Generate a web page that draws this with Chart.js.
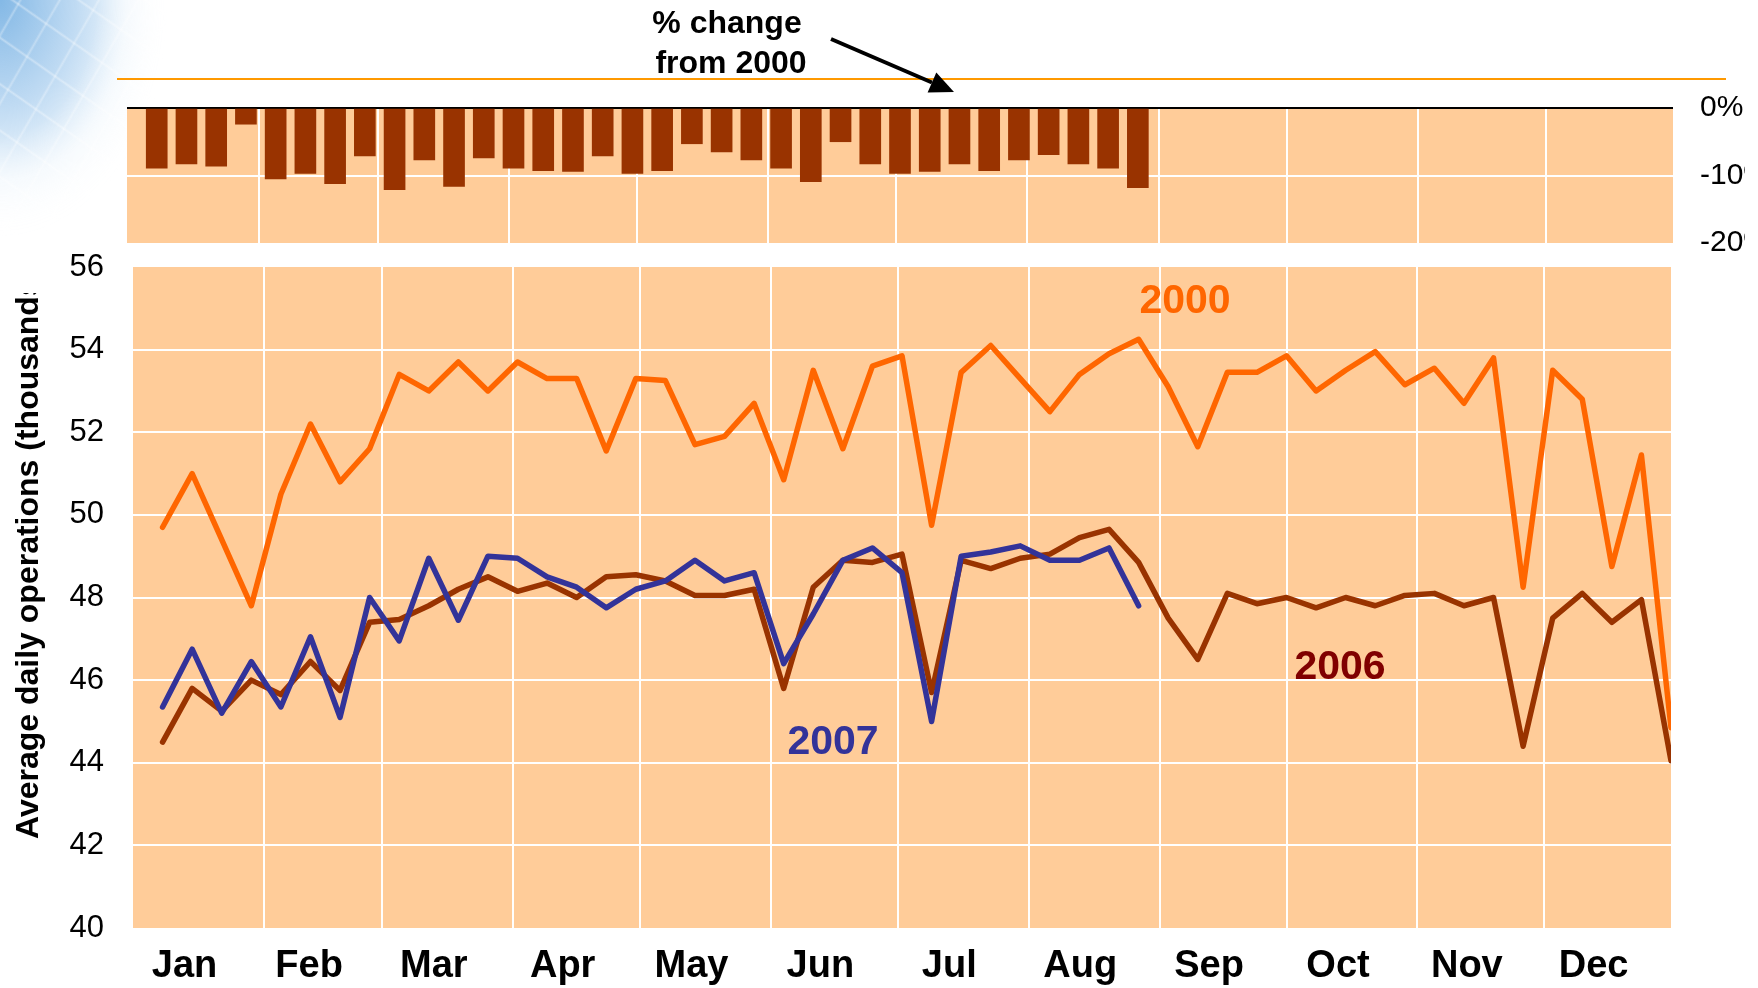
<!DOCTYPE html>
<html>
<head>
<meta charset="utf-8">
<script src="https://cdn.jsdelivr.net/npm/chart.js@4.4.1/dist/chart.umd.min.js"></script>
<style>
html, body { margin:0; padding:0; width:1758px; height:988px; overflow:hidden; background:#fff; }
#deco { position:absolute; left:0; top:0; width:360px; height:360px;
  background:
    repeating-linear-gradient(35deg, rgba(255,255,255,0) 0px, rgba(255,255,255,0) 34px, rgba(255,255,255,0.35) 36px, rgba(255,255,255,0) 38px),
    repeating-linear-gradient(-60deg, rgba(255,255,255,0) 0px, rgba(255,255,255,0) 30px, rgba(255,255,255,0.3) 32px, rgba(255,255,255,0) 34px),
    radial-gradient(ellipse 170px 240px at 0 0, rgba(110,172,225,0.85) 0%, rgba(150,195,235,0.6) 45%, rgba(205,228,246,0.3) 75%, rgba(255,255,255,0) 100%);
  -webkit-mask-image: radial-gradient(ellipse 175px 245px at 0 0, #000 0%, #000 55%, rgba(0,0,0,0) 100%);
  mask-image: radial-gradient(ellipse 175px 245px at 0 0, #000 0%, #000 55%, rgba(0,0,0,0) 100%); }
canvas { position:absolute; left:0; top:0; }
</style>
</head>
<body>
<div id="deco"></div>
<canvas id="top" width="1745" height="300"></canvas>
<canvas id="main" width="1758" height="988"></canvas>
<script>
// ---- data ----
const monthNames = ["Jan","Feb","Mar","Apr","May","Jun","Jul","Aug","Sep","Oct","Nov","Dec"];
const monthStarts = [0,31,59,90,120,151,181,212,243,273,304,334,364];
const weekDays = [7,14,21,28,35,42,49,56,63,70,77,84,91,98,105,112,119,126,133,140,147,154,161,168,175,182,189,196,203,210,217,224,231,238,245,252,259,266,273,280,287,294,301,308,315,322,329,336,343,350,357,364];
const ops2000 = [49.7,51.0,49.4,47.8,50.5,52.2,50.8,51.6,53.4,53.0,53.7,53.0,53.7,53.3,53.3,51.55,53.3,53.25,51.7,51.9,52.7,50.85,53.5,51.6,53.6,53.85,49.75,53.45,54.1,53.3,52.5,53.4,53.9,54.25,53.1,51.65,53.45,53.45,53.85,53.0,53.5,53.95,53.15,53.55,52.7,53.8,48.25,53.5,52.8,48.75,51.45,44.85];
const ops2006 = [44.5,45.8,45.25,46.0,45.65,46.45,45.75,47.4,47.47,47.8,48.2,48.5,48.15,48.35,48.0,48.5,48.55,48.4,48.05,48.05,48.2,45.8,48.25,48.9,48.85,49.05,45.7,48.9,48.7,48.95,49.05,49.45,49.65,48.85,47.5,46.5,48.1,47.85,48.0,47.75,48.0,47.8,48.05,48.1,47.8,48.0,44.4,47.5,48.1,47.4,47.95,44.05];
const ops2007 = [45.35,46.75,45.2,46.45,45.35,47.05,45.1,48.0,46.95,48.95,47.45,49.0,48.95,48.5,48.25,47.75,48.2,48.4,48.9,48.4,48.6,46.4,47.6,48.9,49.2,48.6,45.0,49.0,49.1,49.25,48.9,48.9,49.2,47.8];
const pctChange = [-8.9,-8.3,-8.6,-2.4,-10.5,-9.7,-11.2,-7.1,-12.1,-7.7,-11.6,-7.4,-8.9,-9.3,-9.4,-7.1,-9.7,-9.3,-5.3,-6.5,-7.7,-8.9,-10.9,-5.0,-8.3,-9.7,-9.4,-8.3,-9.3,-7.7,-6.9,-8.3,-8.9,-11.8];
const opsTicks = [40,42,44,46,48,50,52,54,56];
const pctTicks = [0,-10,-20];

// ---- helpers ----
const FONT = "'Liberation Sans', Arial, Helvetica, sans-serif";
Chart.defaults.font.family = FONT;
const toXY = arr => arr.map((v,i) => ({x: weekDays[i], y: v}));
const innerBounds = monthStarts.slice(1, -1);
const monthMids = monthNames.map((m,i) => (monthStarts[i] + monthStarts[i+1]) / 2);
const xTickVals = innerBounds.concat(monthMids).sort((a,b)=>a-b);
const CLEAR = 'rgba(0,0,0,0)';

const bgPlugin = {
  id: 'plotBg',
  beforeDraw(chart) {
    const {ctx, chartArea: a} = chart;
    ctx.save();
    ctx.fillStyle = '#FFCC99';
    ctx.fillRect(a.left, a.top, a.right - a.left, a.bottom - a.top);
    ctx.restore();
  }
};

const annotPlugin = {
  id: 'annot',
  afterDraw(chart) {
    const ctx = chart.ctx;
    ctx.save();
    // series labels
    ctx.textAlign = 'center';
    ctx.textBaseline = 'middle';
    ctx.font = "bold 41px " + FONT;
    ctx.fillStyle = '#FF6600'; ctx.fillText('2000', 1185, 302);
    ctx.fillStyle = '#333399'; ctx.fillText('2007', 833, 743);
    ctx.fillStyle = '#800000'; ctx.fillText('2006', 1340, 668);
    // top caption
    ctx.fillStyle = '#000';
    ctx.font = "bold 32px " + FONT;
    ctx.fillText('% change', 727, 24);
    ctx.fillText('from 2000', 731, 64);
    // orange rule
    ctx.strokeStyle = '#FF9900';
    ctx.lineWidth = 2;
    ctx.beginPath(); ctx.moveTo(117, 79); ctx.lineTo(1726, 79); ctx.stroke();
    // arrow
    const x1 = 831, y1 = 39, x2 = 954, y2 = 92;
    const ang = Math.atan2(y2 - y1, x2 - x1);
    const headL = 24, headW = 11;
    const bx = x2 - headL * Math.cos(ang), by = y2 - headL * Math.sin(ang);
    ctx.strokeStyle = '#000';
    ctx.lineWidth = 4;
    ctx.beginPath(); ctx.moveTo(x1, y1); ctx.lineTo(bx, by); ctx.stroke();
    ctx.fillStyle = '#000';
    ctx.beginPath();
    ctx.moveTo(x2, y2);
    ctx.lineTo(bx + headW * Math.sin(ang), by - headW * Math.cos(ang));
    ctx.lineTo(bx - headW * Math.sin(ang), by + headW * Math.cos(ang));
    ctx.closePath(); ctx.fill();
    // y-axis title (clipped at top as in the original)
    ctx.beginPath(); ctx.rect(0, 293, 80, 700); ctx.clip();
    ctx.translate(38, 839);
    ctx.rotate(-Math.PI / 2);
    ctx.textAlign = 'left';
    ctx.textBaseline = 'alphabetic';
    ctx.font = "bold 32px " + FONT;
    ctx.fillStyle = '#000';
    ctx.fillText('Average daily operations (thousands)', 0, 0);
    ctx.restore();
  }
};

const lineStyle = {borderWidth: 5.5, pointRadius: 0, tension: 0, borderJoinStyle: 'round', borderCapStyle: 'round'};

// ---- main chart ----
new Chart(document.getElementById('main'), {
  type: 'line',
  data: {
    datasets: [
      Object.assign({label: '2007', data: toXY(ops2007), borderColor: '#333399'}, lineStyle),
      Object.assign({label: '2000', data: toXY(ops2000), borderColor: '#FF6600'}, lineStyle),
      Object.assign({label: '2006', data: toXY(ops2006), borderColor: '#993300'}, lineStyle)
    ]
  },
  options: {
    responsive: false,
    animation: false,
    layout: {padding: {left: 0, right: 87, top: 267, bottom: 0}},
    plugins: {legend: {display: false}, tooltip: {enabled: false}},
    scales: {
      x: {
        type: 'linear', min: monthStarts[0], max: monthStarts[12],
        afterBuildTicks: s => { s.ticks = xTickVals.map(v => ({value: v})); },
        afterFit: s => { s.height = 60; },
        border: {display: false},
        grid: {
          drawTicks: false, lineWidth: 2,
          color: c => (c.tick && innerBounds.includes(c.tick.value)) ? '#FFFFFF' : CLEAR
        },
        ticks: {
          autoSkip: false, maxRotation: 0, minRotation: 0, padding: 16, labelOffset: -14,
          color: '#000', font: {size: 38, weight: 'bold'},
          callback: v => { const k = monthMids.indexOf(v); return k >= 0 ? monthNames[k] : ''; }
        }
      },
      y: {
        min: 40, max: 56,
        afterBuildTicks: s => { s.ticks = opsTicks.map(v => ({value: v})); },
        afterFit: s => { s.width = 133; },
        border: {display: false},
        grid: {drawTicks: false, lineWidth: 2, color: c => (c.tick && (c.tick.value === 40 || c.tick.value === 56)) ? CLEAR : '#FFFFFF'},
        ticks: {padding: 29, color: '#000', font: {size: 31}}
      }
    }
  },
  plugins: [bgPlugin, annotPlugin]
});

// ---- top % change chart ----
new Chart(document.getElementById('top'), {
  type: 'bar',
  data: {
    datasets: [{
      label: '% change from 2000',
      data: toXY(pctChange),
      backgroundColor: '#993300',
      borderWidth: 0,
      barThickness: 21
    }]
  },
  options: {
    responsive: false,
    animation: false,
    layout: {padding: {left: 127, right: 0, top: 108, bottom: 0}},
    plugins: {legend: {display: false}, tooltip: {enabled: false}},
    scales: {
      x: {
        type: 'linear', min: monthStarts[0], max: monthStarts[12], offset: false,
        afterBuildTicks: s => { s.ticks = innerBounds.map(v => ({value: v})); },
        afterFit: s => { s.height = 57; },
        border: {display: false},
        grid: {offset: false, drawTicks: false, lineWidth: 2, color: '#FFFFFF'},
        ticks: {display: false}
      },
      y: {
        position: 'right', min: -20, max: 0,
        afterBuildTicks: s => { s.ticks = pctTicks.map(v => ({value: v})); },
        afterFit: s => { s.width = 72; },
        border: {display: false},
        grid: {drawTicks: false, lineWidth: 2, color: c => !c.tick ? CLEAR : (c.tick.value === 0 ? '#000000' : (c.tick.value === -20 ? CLEAR : '#FFFFFF'))},
        ticks: {padding: 27, color: '#000', font: {size: 30}, callback: v => v + '%'}
      }
    }
  },
  plugins: [bgPlugin]
});
</script>
</body>
</html>
